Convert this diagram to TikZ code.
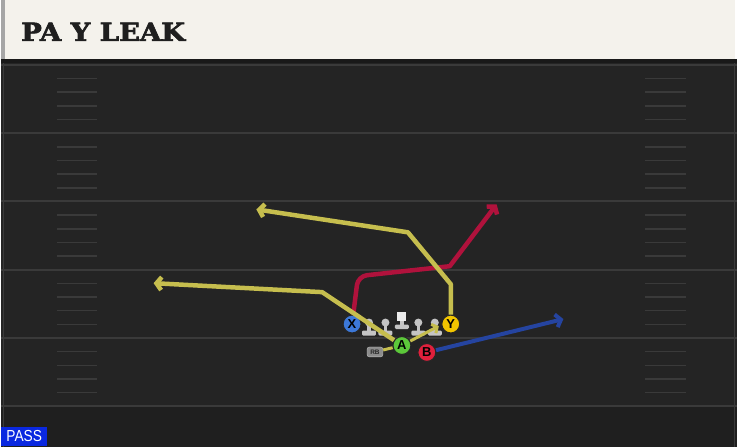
\documentclass[tikz,border=0pt]{standalone}
\usepackage{fontspec}
\setmainfont{Liberation Sans}
\setsansfont{Liberation Sans}
\newfontfamily\titlefont{DejaVu Serif}[BoldFeatures={FakeBold=2.5}]
\usetikzlibrary{positioning,arrows.meta}

\definecolor{fieldgray}{HTML}{242424}
\definecolor{endgray}{HTML}{1F1F1F}
\definecolor{yardgray}{HTML}{3A3A3A}
\definecolor{titlecream}{HTML}{F4F2EC}
\definecolor{routeyellow}{HTML}{C6BE4E}
\definecolor{routered}{HTML}{B0123C}
\definecolor{routeblue}{HTML}{2544A0}
\definecolor{xblue}{HTML}{3C78D8}
\definecolor{ygold}{HTML}{F2C500}
\definecolor{agreen}{HTML}{5CC83A}
\definecolor{bred}{HTML}{E0203C}
\definecolor{olgray}{HTML}{C4C4C4}
\definecolor{passblue}{HTML}{0A28E0}

\begin{document}
\begin{tikzpicture}[x=1pt,y=-1pt,node distance=16.5pt,on grid]
            \tikzstyle{player}=[circle, draw=black!85, line width=1.1pt, minimum size=18pt, inner sep=0pt,
                                font=\sffamily\bfseries\fontsize{13}{13}\selectfont]
            \tikzstyle{lineman}=[minimum width=16pt, minimum height=22pt, inner sep=0pt,
                                 path picture={
                                   \begin{scope}[shift={(path picture bounding box.center)}]
                                     \fill[olgray] (-1.6pt,3pt) rectangle (1.6pt,-6pt);
                                     \fill[olgray] (0pt,3.5pt) circle (4pt);
                                     \fill[olgray, rounded corners=1.2pt] (-7pt,-4.5pt) rectangle (7pt,-9.5pt);
                                   \end{scope}}]
            \tikzstyle{center}=[minimum width=16pt, minimum height=22pt, inner sep=0pt,
                                path picture={
                                  \begin{scope}[shift={(path picture bounding box.center)}]
                                    \fill[olgray] (-1.6pt,4pt) rectangle (1.6pt,-4pt);
                                    \fill[white!92!black] (-4.5pt,0.5pt) rectangle (4.5pt,9.5pt);
                                    \fill[olgray, rounded corners=1.2pt] (-7pt,-3.5pt) rectangle (7pt,-8pt);
                                  \end{scope}}]
            \tikzstyle{route}=[line width=4.5pt, line join=round, -{Straight Barb[length=5pt,width=13pt]}]

            % field and title bar
            \fill[fieldgray] (0,59) rectangle (738,448);
            \fill[endgray] (0,408) rectangle (738,448);
            \foreach \y in {65,133.5,202,270.5,339,407.5}
                \draw[yardgray, line width=2.2pt] (0,\y) -- (738,\y);
            \foreach \y in {65,133.5,202,270.5,339}
                \foreach \k in {1,...,4} {
                    \draw[yardgray, line width=1.6pt] (56,\y+13.7*\k) -- (96,\y+13.7*\k);
                    \draw[yardgray, line width=1.6pt] (646,\y+13.7*\k) -- (687,\y+13.7*\k);
                }
            \draw[yardgray, line width=1pt] (2,63) -- (2,448);
            \draw[yardgray, line width=1pt] (736,63) -- (736,448);
            \fill[titlecream] (4,0) rectangle (736,59);
            \fill[black!35] (0,0) rectangle (4,59);
            \fill[black!90] (0,59) rectangle (738,63);
            \node[anchor=base west, inner sep=0pt, text=black!88,
                  font=\titlefont\bfseries\fontsize{25}{25}\selectfont] (title) at (20,41) {\scalebox{1.1}[1]{PA Y LEAK}};
            \node[anchor=south west, fill=passblue, text=white, inner sep=0pt, minimum width=46pt, minimum height=20pt,
                  font=\fontsize{16}{16}\selectfont] (playtype) at (0,448) {\scalebox{0.86}[1]{PASS}};

            % offensive line
            \node[center]                    (C)   at (402,322)            {};
            \node[lineman]                   (lg)  [below left = 5pt and 16.5pt of C]  {};
            \node[lineman]                   (lt)  [left = of lg]          {};
            \node[lineman]                   (rg)  [below right = 5pt and 16.5pt of C] {};
            \node[lineman]                   (rt)  [right = of rg]         {};

            % skill players
            \node[player, fill=xblue]        (X)   at (352,325)            {X};
            \node[player, fill=ygold]        (Y)   [right = 99pt of X]     {Y};
            \node[player, fill=agreen]       (A)   [below = 24.5pt of C]   {A};
            \node[player, fill=bred]         (B)   [below right = 7pt and 25pt of A] {B};
            \node[fill=black!45, draw=black!25, rounded corners=2.5pt, minimum width=16pt, minimum height=10pt, inner sep=0pt,
                  text=black!85, font=\sffamily\bfseries\fontsize{6.5}{6.5}\selectfont] (RB) at (375,353) {RB};

            % route points
            \coordinate (xbend) at (358,277);
            \coordinate (xcut)  at (450,267);
            \coordinate (xtip)  at (497,205);
            \coordinate (ybend) at (451,285);
            \coordinate (ycut)  at (408,233);
            \coordinate (ytip)  at (256,210);
            \coordinate (abend) at (322,293);
            \coordinate (atip)  at (153,284);
            \coordinate (afake) at (439,327);
            \coordinate (btip)  at (564,320);

            % routes
            \draw[route, routered] (X) [rounded corners=9pt] -- (xbend) [sharp corners] -- (xcut) -- (xtip);
            \draw[route, routeyellow]                   (Y) -- (ybend) -- (ycut) -- (ytip);
            \draw[route, routeyellow]                   (A) -- (abend) -- (atip);
            \draw[route, routeblue, line width=4pt]     (B) -- (btip);
            \draw[routeyellow, line width=3pt, -{Straight Barb[length=4pt,width=10pt]}] (A) -- (afake);
            \draw[routeyellow, line width=3pt]          (RB) -- (A);
\end{tikzpicture}
\end{document}
